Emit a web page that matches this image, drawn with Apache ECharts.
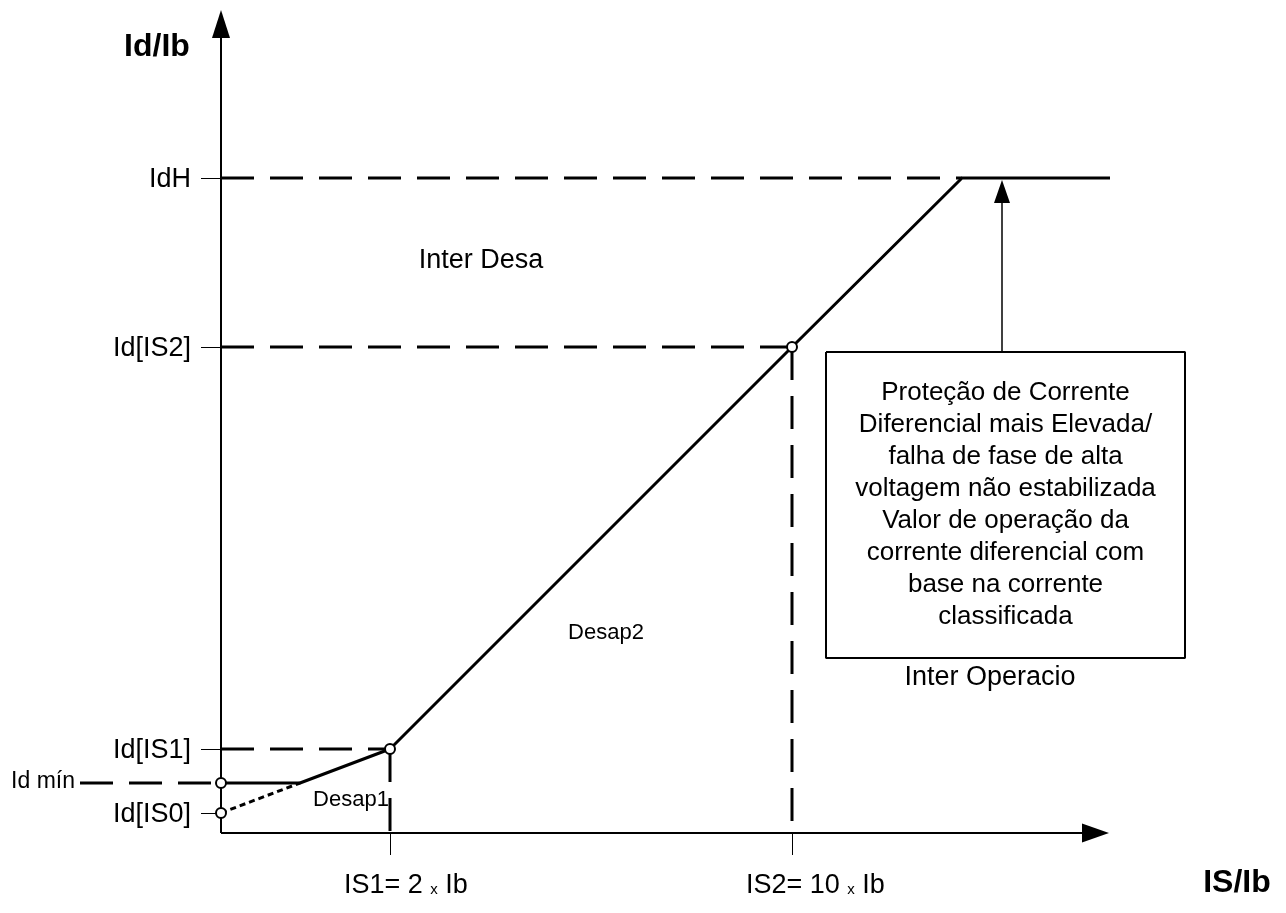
<!DOCTYPE html>
<html>
<head>
<meta charset="utf-8">
<script src="https://cdn.jsdelivr.net/npm/echarts@6/dist/echarts.min.js"></script>
<style>
html,body{margin:0;padding:0;background:#fff;}
#chart{width:1286px;height:913px;}
</style>
</head>
<body>
<div id="chart"></div>
<script>
// ---- data (diagram units) ----
const yTickLabels = ['Id[IS0]', 'Id[IS1]', 'Id[IS2]', 'IdH'];
const yTickValues = [2.0, 8.4, 48.6, 65.5];
const xTickLabels = ['IS1= 2 ', 'IS2= 10 '];
const xTickValues = [16.9, 57.1];
const idMin = 5.0;
const kneeX = 7.9;
const cornerX = 74.1;
const curveEndX = 88.9;
const idMinLeadX = -14.1;
const xAxisEnd = 87.45;
const yAxisEnd = 80.9;
const boxX = [60.5, 96.4];
const boxY = [17.5, 48.1];
const arrowX = 78.1;
const arrowHeadY = 64.15;
const boxLines = [
  'Proteção de Corrente',
  'Diferencial mais Elevada/',
  'falha de fase de alta',
  'voltagem não estabilizada',
  'Valor de operação da',
  'corrente diferencial com',
  'base na corrente',
  'classificada'
];

const [IdIS0, IdIS1, IdIS2, IdH] = yTickValues;
const [IS1, IS2] = xTickValues;

const FONT = '"Liberation Sans", Arial, sans-serif';
const BLACK = '#000';

const charData = [[0, idMin], [kneeX, idMin], [IS1, IdIS1], [IS2, IdIS2], [cornerX, IdH], [curveEndX, IdH]];
const dottedData = [[0, IdIS0], [kneeX, idMin]];
const dashedSegments = [
  [[idMinLeadX, idMin], [0, idMin]],
  [[0, IdH], [cornerX, IdH]],
  [[0, IdIS2], [IS2, IdIS2]],
  [[IS2, IdIS2], [IS2, 0]],
  [[0, IdIS1], [IS1, IdIS1]],
  [[IS1, IdIS1], [IS1, 0]]
];
const circlePts = [[0, idMin], [0, IdIS0], [IS1, IdIS1], [IS2, IdIS2]];

function lineSeries(data, style, z) {
  return {
    type: 'line', data: data, symbol: 'none', clip: false, silent: true,
    animation: false, z: z || 2,
    lineStyle: Object.assign({ color: BLACK, width: 3, cap: 'butt' }, style)
  };
}

function arrowSeries(data, size, rotate, width) {
  return {
    type: 'line', data: data, clip: false, silent: true, animation: false,
    showSymbol: true,
    symbol: function (val, p) { return p.dataIndex === data.length - 1 ? 'triangle' : 'none'; },
    symbolSize: size, symbolRotate: rotate,
    itemStyle: { color: BLACK, opacity: 1 },
    lineStyle: { color: BLACK, width: width },
    z: 4
  };
}

function note(value, text, style) {
  return {
    value: value,
    label: Object.assign({
      show: true, position: 'top', distance: 0, formatter: text, color: BLACK, opacity: 1,
      fontFamily: FONT, fontSize: 26, align: 'center', verticalAlign: 'middle'
    }, style)
  };
}

const notes = [
  note([-6.4, 78.5], 'Id/Ib', { fontSize: 32, fontWeight: 'bold' }),
  note([101.6, -5.1], 'IS/Ib', { fontSize: 32, fontWeight: 'bold' }),
  note([-14.6, idMin + 0.1], 'Id mín', { fontSize: 23, align: 'right' }),
  note([13.0, 3.3], 'Desap1', { fontSize: 22 }),
  note([38.5, 20.0], 'Desap2', { fontSize: 22 }),
  note([26.0, 57.2], 'Inter Desa', { fontSize: 27 }),
  note([76.9, 15.5], 'Inter Operacio', { fontSize: 27 }),
  note([(boxX[0] + boxX[1]) / 2, (boxY[0] + boxY[1]) / 2], boxLines.join('\n'), { fontSize: 26, lineHeight: 32 })
];
// y tick labels (right-aligned left of the y axis)
yTickValues.forEach(function (v, i) {
  notes.push(note([-3.0, v - 0.25], yTickLabels[i], { fontSize: 27, align: 'right' }));
});
// x tick labels
xTickValues.forEach(function (v, i) {
  notes.push(note([v - 4.6, -5.3], '{a|' + xTickLabels[i] + '}{s|x}{a| Ib}', {
    align: 'left',
    rich: {
      a: { fontFamily: FONT, fontSize: 27, color: BLACK },
      s: { fontFamily: FONT, fontSize: 15, color: BLACK, padding: [8, 0, 0, 0] }
    }
  }));
});

const series = [];
// axes drawn as lines with arrow heads
series.push(arrowSeries([[0, 0], [0, yAxisEnd]], [18, 28], 0, 2));
series.push(arrowSeries([[0, 0], [xAxisEnd, 0]], [19, 27], -90, 2));
series.push(lineSeries(charData, { width: 3 }, 3));
series.push(lineSeries(dottedData, { width: 3, type: [6, 4] }, 3));
dashedSegments.forEach(function (seg) {
  series.push(lineSeries(seg, { width: 3, type: [33, 16] }, 2));
});
// box
series.push(lineSeries([[boxX[0], boxY[1]], [boxX[1], boxY[1]], [boxX[1], boxY[0]], [boxX[0], boxY[0]], [boxX[0], boxY[1]]], { width: 2 }, 2));
// arrow into IdH
series.push(arrowSeries([[arrowX, boxY[1]], [arrowX, arrowHeadY]], [16, 23], 0, 1.5));
// circles
series.push({
  type: 'scatter', data: circlePts, symbol: 'circle', symbolSize: 10, clip: false, silent: true, animation: false,
  itemStyle: { color: '#fff', borderColor: BLACK, borderWidth: 2, opacity: 1 }, z: 6
});
// texts
series.push({
  type: 'scatter', data: notes, symbolSize: 1, clip: false, silent: true, animation: false,
  itemStyle: { color: 'rgba(255,255,255,0)', opacity: 1 }, z: 7
});

const chart = echarts.init(document.getElementById('chart'), null, { renderer: 'canvas' });
chart.setOption({
  backgroundColor: '#fff',
  animation: false,
  grid: { left: 0, right: 0, top: 0, bottom: 0, containLabel: false, outerBoundsMode: 'none' },
  xAxis: {
    type: 'value', min: -22.1, max: 106.5,
    splitLine: { show: false },
    axisLine: { show: false, onZero: true },
    axisTick: { show: true, customValues: xTickValues, length: 22, lineStyle: { color: BLACK, width: 1 } },
    axisLabel: { show: false }
  },
  yAxis: {
    type: 'value', min: -8.0, max: 83.3,
    splitLine: { show: false },
    axisLine: { show: false, onZero: true },
    axisTick: { show: true, customValues: yTickValues, length: 20, lineStyle: { color: BLACK, width: 1 } },
    axisLabel: { show: false }
  },
  series: series
});
</script>
</body>
</html>
